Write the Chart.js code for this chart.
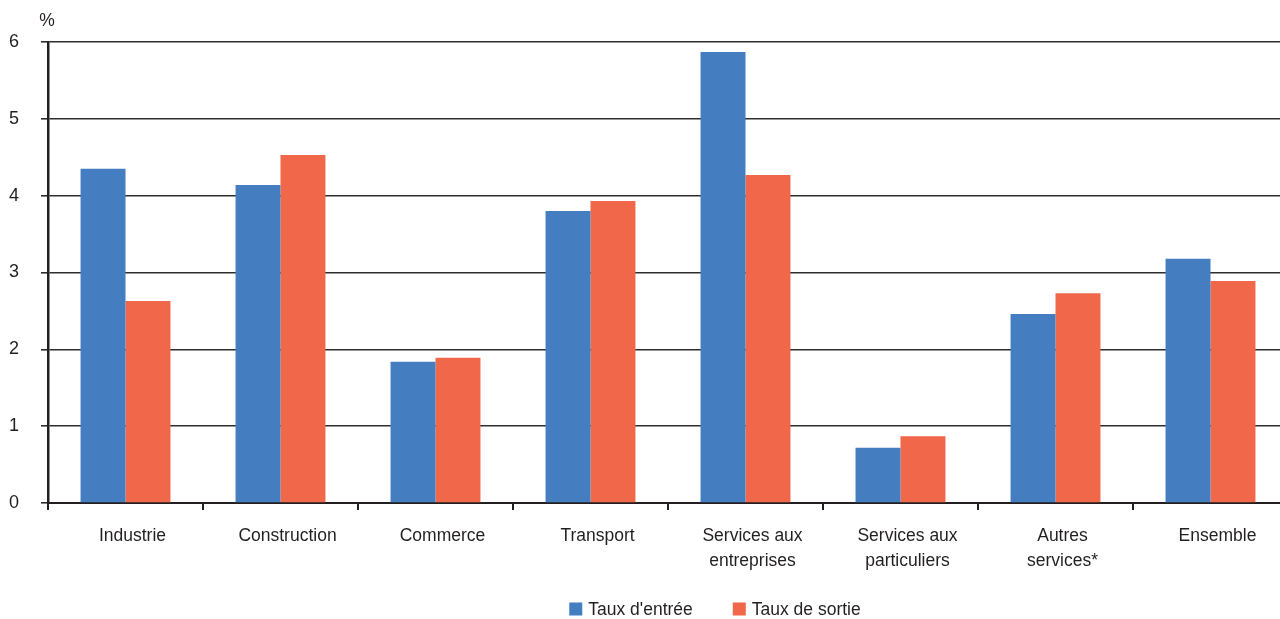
<!DOCTYPE html>
<html>
<head>
<meta charset="utf-8">
<script src="https://cdn.jsdelivr.net/npm/chart.js@4"></script>
<style>
  html, body { margin: 0; padding: 0; background: #fff; overflow: hidden; }
  #wrap { width: 1288px; height: 619px; }
</style>
</head>
<body>
<div id="wrap"><canvas id="rateChart"></canvas></div>
<script>
// Taux d'entrée / taux de sortie par secteur (%)
const categories = [
    'Industrie',
    'Construction',
    'Commerce',
    'Transport',
    ['Services aux', 'entreprises'],
    ['Services aux', 'particuliers'],
    ['Autres', 'services*'],
    'Ensemble'
];
const tauxEntree = [4.35, 4.14, 1.84, 3.80, 5.87, 0.72, 2.46, 3.18];
const tauxSortie = [2.63, 4.53, 1.89, 3.93, 4.27, 0.87, 2.73, 2.89];
const yTicks = [0, 1, 2, 3, 4, 5, 6];

const FONT = 'Liberation Sans, Arial, Helvetica, sans-serif';
const INK = '#231f20';

// "%" unit label above the y axis
const unitLabel = {
    id: 'unitLabel',
    afterDraw(chart) {
        const { ctx, chartArea } = chart;
        ctx.save();
        ctx.font = '17.5px ' + FONT;
        ctx.fillStyle = INK;
        ctx.textAlign = 'center';
        ctx.textBaseline = 'middle';
        ctx.fillText('%', chartArea.left - 1, 21);
        ctx.restore();
    }
};

// legend drawn by hand so the gap between items can be wide
const wideLegend = {
    id: 'wideLegend',
    afterDraw(chart) {
        const { ctx } = chart;
        const y = 609;
        const box = 13;
        const gap = 40;
        ctx.save();
        ctx.font = '17.5px ' + FONT;
        ctx.textBaseline = 'middle';
        const items = chart.data.datasets.map(ds => ({
            text: ds.label,
            color: ds.backgroundColor,
            w: box + 6 + ctx.measureText(ds.label).width
        }));
        const total = items.reduce((s, it) => s + it.w, 0) + gap * (items.length - 1);
        let x = 715 - total / 2;
        items.forEach(it => {
            ctx.fillStyle = it.color;
            ctx.fillRect(x, y - box / 2, box, box);
            ctx.fillStyle = INK;
            ctx.textAlign = 'left';
            ctx.fillText(it.text, x + box + 6, y + 1);
            x += it.w + gap;
        });
        ctx.restore();
    }
};

function initRateChart() {
    const ctx = document.getElementById('rateChart').getContext('2d');

    new Chart(ctx, {
        type: 'bar',
        data: {
            labels: categories,
            datasets: [{
                label: "Taux d'entrée",
                data: tauxEntree,
                backgroundColor: '#447ec1',
                borderWidth: 0
            }, {
                label: 'Taux de sortie',
                data: tauxSortie,
                backgroundColor: '#f1674a',
                borderWidth: 0
            }]
        },
        options: {
            responsive: true,
            maintainAspectRatio: false,
            animation: false,
            layout: {
                padding: { top: 42, left: 0, right: 0, bottom: 36 }
            },
            datasets: {
                bar: {
                    barPercentage: 1,
                    categoryPercentage: 0.58
                }
            },
            plugins: {
                legend: { display: false },
                tooltip: { enabled: false }
            },
            scales: {
                x: {
                    afterFit: scale => { scale.height = 80; },
                    border: { color: INK, width: 2 },
                    grid: {
                        drawOnChartArea: false,
                        tickLength: 7,
                        color: INK,
                        lineWidth: 2
                    },
                    ticks: {
                        font: { family: FONT, size: 17.5, lineHeight: 1.46 },
                        color: INK,
                        padding: 13,
                        labelOffset: 7,
                        maxRotation: 0,
                        autoSkip: false
                    }
                },
                y: {
                    min: 0,
                    max: 6,
                    afterFit: scale => { scale.width = 48; },
                    afterBuildTicks: scale => {
                        scale.ticks = yTicks.map(v => ({ value: v }));
                    },
                    border: { color: INK, width: 2.5 },
                    grid: {
                        color: '#2e2e2e',
                        lineWidth: 1.6,
                        tickLength: 7
                    },
                    ticks: {
                        font: { family: FONT, size: 18 },
                        color: INK,
                        padding: 22
                    }
                }
            }
        },
        plugins: [unitLabel, wideLegend]
    });
}

initRateChart();
</script>
</body>
</html>
